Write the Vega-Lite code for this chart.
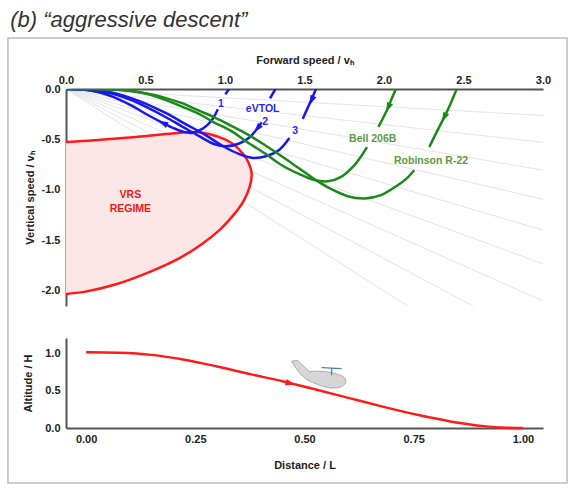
{
  "$schema": "https://vega.github.io/schema/vega-lite/v6.json",
  "background": "white",
  "padding": {"left": 7, "top": 9, "right": 6, "bottom": 6},
  "title": {"text": "(b) \u201caggressive descent\u201d", "anchor": "start", "frame": "bounds", "font": "Liberation Sans", "fontSize": 22, "fontStyle": "italic", "fontWeight": "normal", "color": "#333333", "dx": 3, "offset": 5},
  "config": {
    "view": {"stroke": null},
    "axis": {"domainColor": "#555555", "domainWidth": 2, "ticks": false, "grid": false, "labelFlush": false, "labelOverlap": false,
      "labelFont": "Liberation Sans", "labelFontWeight": "bold", "labelFontSize": 11, "labelColor": "#222222",
      "titleFont": "Liberation Sans", "titleFontWeight": "bold", "titleFontSize": 11, "titleColor": "#222222"},
    "text": {"font": "Liberation Sans"}
  },
  "datasets": {
    "fan": [
      {"deg": 5, "i": 0, "x": 0, "y": 0}, {"deg": 5, "i": 1, "x": 3, "y": -0.262},
      {"deg": 10, "i": 0, "x": 0, "y": 0}, {"deg": 10, "i": 1, "x": 3, "y": -0.529},
      {"deg": 15, "i": 0, "x": 0, "y": 0}, {"deg": 15, "i": 1, "x": 3, "y": -0.804},
      {"deg": 20, "i": 0, "x": 0, "y": 0}, {"deg": 20, "i": 1, "x": 3, "y": -1.092},
      {"deg": 25, "i": 0, "x": 0, "y": 0}, {"deg": 25, "i": 1, "x": 3, "y": -1.399},
      {"deg": 30, "i": 0, "x": 0, "y": 0}, {"deg": 30, "i": 1, "x": 3, "y": -1.732},
      {"deg": 35, "i": 0, "x": 0, "y": 0}, {"deg": 35, "i": 1, "x": 3, "y": -2.1},
      {"deg": 40, "i": 0, "x": 0, "y": 0}, {"deg": 40, "i": 1, "x": 2.56, "y": -2.15},
      {"deg": 45, "i": 0, "x": 0, "y": 0}, {"deg": 45, "i": 1, "x": 2.15, "y": -2.15}
    ],
    "vrs_fill": [
      {"x": 0, "y": -0.525, "y2": -2.03}, {"x": 0.1, "y": -0.516, "y2": -2.013}, {"x": 0.22, "y": -0.502, "y2": -1.975},
      {"x": 0.419, "y": -0.478, "y2": -1.88}, {"x": 0.629, "y": -0.447, "y2": -1.745}, {"x": 0.8, "y": -0.425, "y2": -1.6},
      {"x": 0.9, "y": -0.445, "y2": -1.484}, {"x": 1.0, "y": -0.5, "y2": -1.345}, {"x": 1.05, "y": -0.545, "y2": -1.26},
      {"x": 1.09, "y": -0.6, "y2": -1.17}, {"x": 1.135, "y": -0.69, "y2": -1.05}, {"x": 1.16, "y": -0.78, "y2": -0.93},
      {"x": 1.168, "y": -0.85, "y2": -0.85}
    ],
    "curves": [
      {"seg": "vrs", "tone": "red", "i": 0, "x": 0, "y": -0.525}, {"seg": "vrs", "tone": "red", "i": 1, "x": 0.1, "y": -0.516},
      {"seg": "vrs", "tone": "red", "i": 2, "x": 0.22, "y": -0.502}, {"seg": "vrs", "tone": "red", "i": 3, "x": 0.419, "y": -0.478},
      {"seg": "vrs", "tone": "red", "i": 4, "x": 0.629, "y": -0.447}, {"seg": "vrs", "tone": "red", "i": 5, "x": 0.8, "y": -0.425},
      {"seg": "vrs", "tone": "red", "i": 6, "x": 0.9, "y": -0.445}, {"seg": "vrs", "tone": "red", "i": 7, "x": 1.0, "y": -0.5},
      {"seg": "vrs", "tone": "red", "i": 8, "x": 1.05, "y": -0.545}, {"seg": "vrs", "tone": "red", "i": 9, "x": 1.09, "y": -0.6},
      {"seg": "vrs", "tone": "red", "i": 10, "x": 1.135, "y": -0.69}, {"seg": "vrs", "tone": "red", "i": 11, "x": 1.16, "y": -0.78},
      {"seg": "vrs", "tone": "red", "i": 12, "x": 1.168, "y": -0.85}, {"seg": "vrs", "tone": "red", "i": 13, "x": 1.155, "y": -0.97},
      {"seg": "vrs", "tone": "red", "i": 14, "x": 1.12, "y": -1.1}, {"seg": "vrs", "tone": "red", "i": 15, "x": 1.058, "y": -1.24},
      {"seg": "vrs", "tone": "red", "i": 16, "x": 0.97, "y": -1.39}, {"seg": "vrs", "tone": "red", "i": 17, "x": 0.86, "y": -1.53},
      {"seg": "vrs", "tone": "red", "i": 18, "x": 0.72, "y": -1.67}, {"seg": "vrs", "tone": "red", "i": 19, "x": 0.535, "y": -1.806},
      {"seg": "vrs", "tone": "red", "i": 20, "x": 0.304, "y": -1.94}, {"seg": "vrs", "tone": "red", "i": 21, "x": 0.115, "y": -2.01},
      {"seg": "vrs", "tone": "red", "i": 22, "x": 0, "y": -2.03},

      {"seg": "e1a", "tone": "blue", "i": 0, "x": 1.025, "y": 0}, {"seg": "e1a", "tone": "blue", "i": 1, "x": 1.002, "y": -0.053},
      {"seg": "e1b", "tone": "blue", "i": 0, "x": 0.955, "y": -0.2}, {"seg": "e1b", "tone": "blue", "i": 1, "x": 0.925, "y": -0.29},
      {"seg": "e1b", "tone": "blue", "i": 2, "x": 0.89, "y": -0.355}, {"seg": "e1b", "tone": "blue", "i": 3, "x": 0.845, "y": -0.405},
      {"seg": "e1b", "tone": "blue", "i": 4, "x": 0.79, "y": -0.435}, {"seg": "e1b", "tone": "blue", "i": 5, "x": 0.74, "y": -0.425},
      {"seg": "e1b", "tone": "blue", "i": 6, "x": 0.68, "y": -0.39}, {"seg": "e1b", "tone": "blue", "i": 7, "x": 0.608, "y": -0.335},
      {"seg": "e1b", "tone": "blue", "i": 8, "x": 0.5, "y": -0.245}, {"seg": "e1b", "tone": "blue", "i": 9, "x": 0.419, "y": -0.17},
      {"seg": "e1b", "tone": "blue", "i": 10, "x": 0.3, "y": -0.08}, {"seg": "e1b", "tone": "blue", "i": 11, "x": 0.2, "y": -0.03},
      {"seg": "e1b", "tone": "blue", "i": 12, "x": 0.1, "y": -0.006}, {"seg": "e1b", "tone": "blue", "i": 13, "x": 0, "y": 0},

      {"seg": "e2a", "tone": "blue", "i": 0, "x": 1.317, "y": 0}, {"seg": "e2a", "tone": "blue", "i": 1, "x": 1.283, "y": -0.092},
      {"seg": "e2b", "tone": "blue", "i": 0, "x": 1.23, "y": -0.33}, {"seg": "e2b", "tone": "blue", "i": 1, "x": 1.205, "y": -0.388},
      {"seg": "e2b", "tone": "blue", "i": 2, "x": 1.153, "y": -0.48}, {"seg": "e2b", "tone": "blue", "i": 3, "x": 1.09, "y": -0.54},
      {"seg": "e2b", "tone": "blue", "i": 4, "x": 1.006, "y": -0.568}, {"seg": "e2b", "tone": "blue", "i": 5, "x": 0.93, "y": -0.545},
      {"seg": "e2b", "tone": "blue", "i": 6, "x": 0.84, "y": -0.47}, {"seg": "e2b", "tone": "blue", "i": 7, "x": 0.734, "y": -0.375},
      {"seg": "e2b", "tone": "blue", "i": 8, "x": 0.629, "y": -0.28}, {"seg": "e2b", "tone": "blue", "i": 9, "x": 0.5, "y": -0.175},
      {"seg": "e2b", "tone": "blue", "i": 10, "x": 0.419, "y": -0.115}, {"seg": "e2b", "tone": "blue", "i": 11, "x": 0.3, "y": -0.05},
      {"seg": "e2b", "tone": "blue", "i": 12, "x": 0.2, "y": -0.018}, {"seg": "e2b", "tone": "blue", "i": 13, "x": 0.1, "y": -0.004},
      {"seg": "e2b", "tone": "blue", "i": 14, "x": 0, "y": 0},

      {"seg": "e3a", "tone": "blue", "i": 0, "x": 1.572, "y": 0}, {"seg": "e3a", "tone": "blue", "i": 1, "x": 1.541, "y": -0.115},
      {"seg": "e3a", "tone": "blue", "i": 2, "x": 1.489, "y": -0.296},
      {"seg": "e3b", "tone": "blue", "i": 0, "x": 1.405, "y": -0.486}, {"seg": "e3b", "tone": "blue", "i": 1, "x": 1.342, "y": -0.601},
      {"seg": "e3b", "tone": "blue", "i": 2, "x": 1.258, "y": -0.667}, {"seg": "e3b", "tone": "blue", "i": 3, "x": 1.174, "y": -0.683},
      {"seg": "e3b", "tone": "blue", "i": 4, "x": 1.09, "y": -0.645}, {"seg": "e3b", "tone": "blue", "i": 5, "x": 0.985, "y": -0.565},
      {"seg": "e3b", "tone": "blue", "i": 6, "x": 0.881, "y": -0.46}, {"seg": "e3b", "tone": "blue", "i": 7, "x": 0.755, "y": -0.35},
      {"seg": "e3b", "tone": "blue", "i": 8, "x": 0.629, "y": -0.24}, {"seg": "e3b", "tone": "blue", "i": 9, "x": 0.5, "y": -0.145},
      {"seg": "e3b", "tone": "blue", "i": 10, "x": 0.419, "y": -0.095}, {"seg": "e3b", "tone": "blue", "i": 11, "x": 0.3, "y": -0.04},
      {"seg": "e3b", "tone": "blue", "i": 12, "x": 0.2, "y": -0.013}, {"seg": "e3b", "tone": "blue", "i": 13, "x": 0.1, "y": -0.002},
      {"seg": "e3b", "tone": "blue", "i": 14, "x": 0, "y": 0},

      {"seg": "ba", "tone": "green", "i": 0, "x": 2.075, "y": 0}, {"seg": "ba", "tone": "green", "i": 1, "x": 2.05, "y": -0.09},
      {"seg": "ba", "tone": "green", "i": 2, "x": 2.027, "y": -0.18}, {"seg": "ba", "tone": "green", "i": 3, "x": 1.99, "y": -0.3},
      {"seg": "ba", "tone": "green", "i": 4, "x": 1.965, "y": -0.375},
      {"seg": "bb", "tone": "green", "i": 0, "x": 1.893, "y": -0.575}, {"seg": "bb", "tone": "green", "i": 1, "x": 1.85, "y": -0.68},
      {"seg": "bb", "tone": "green", "i": 2, "x": 1.813, "y": -0.756}, {"seg": "bb", "tone": "green", "i": 3, "x": 1.73, "y": -0.87},
      {"seg": "bb", "tone": "green", "i": 4, "x": 1.646, "y": -0.915}, {"seg": "bb", "tone": "green", "i": 5, "x": 1.562, "y": -0.902},
      {"seg": "bb", "tone": "green", "i": 6, "x": 1.468, "y": -0.843}, {"seg": "bb", "tone": "green", "i": 7, "x": 1.352, "y": -0.75},
      {"seg": "bb", "tone": "green", "i": 8, "x": 1.258, "y": -0.645}, {"seg": "bb", "tone": "green", "i": 9, "x": 1.143, "y": -0.53},
      {"seg": "bb", "tone": "green", "i": 10, "x": 1.048, "y": -0.425}, {"seg": "bb", "tone": "green", "i": 11, "x": 0.93, "y": -0.33},
      {"seg": "bb", "tone": "green", "i": 12, "x": 0.839, "y": -0.25}, {"seg": "bb", "tone": "green", "i": 13, "x": 0.73, "y": -0.175},
      {"seg": "bb", "tone": "green", "i": 14, "x": 0.629, "y": -0.11}, {"seg": "bb", "tone": "green", "i": 15, "x": 0.524, "y": -0.055},
      {"seg": "bb", "tone": "green", "i": 16, "x": 0.419, "y": -0.02}, {"seg": "bb", "tone": "green", "i": 17, "x": 0.3, "y": -0.004},
      {"seg": "bb", "tone": "green", "i": 18, "x": 0.15, "y": 0}, {"seg": "bb", "tone": "green", "i": 19, "x": 0, "y": 0},

      {"seg": "ra", "tone": "green", "i": 0, "x": 2.457, "y": 0}, {"seg": "ra", "tone": "green", "i": 1, "x": 2.42, "y": -0.14},
      {"seg": "ra", "tone": "green", "i": 2, "x": 2.379, "y": -0.279}, {"seg": "ra", "tone": "green", "i": 3, "x": 2.33, "y": -0.43},
      {"seg": "ra", "tone": "green", "i": 4, "x": 2.285, "y": -0.575},
      {"seg": "rb", "tone": "green", "i": 0, "x": 2.19, "y": -0.805}, {"seg": "rb", "tone": "green", "i": 1, "x": 2.14, "y": -0.89},
      {"seg": "rb", "tone": "green", "i": 2, "x": 2.086, "y": -0.953}, {"seg": "rb", "tone": "green", "i": 3, "x": 1.981, "y": -1.051},
      {"seg": "rb", "tone": "green", "i": 4, "x": 1.876, "y": -1.084}, {"seg": "rb", "tone": "green", "i": 5, "x": 1.772, "y": -1.062},
      {"seg": "rb", "tone": "green", "i": 6, "x": 1.66, "y": -0.985}, {"seg": "rb", "tone": "green", "i": 7, "x": 1.56, "y": -0.89},
      {"seg": "rb", "tone": "green", "i": 8, "x": 1.46, "y": -0.78}, {"seg": "rb", "tone": "green", "i": 9, "x": 1.357, "y": -0.667},
      {"seg": "rb", "tone": "green", "i": 10, "x": 1.25, "y": -0.555}, {"seg": "rb", "tone": "green", "i": 11, "x": 1.148, "y": -0.455},
      {"seg": "rb", "tone": "green", "i": 12, "x": 1.04, "y": -0.365}, {"seg": "rb", "tone": "green", "i": 13, "x": 0.94, "y": -0.285},
      {"seg": "rb", "tone": "green", "i": 14, "x": 0.83, "y": -0.21}, {"seg": "rb", "tone": "green", "i": 15, "x": 0.73, "y": -0.14},
      {"seg": "rb", "tone": "green", "i": 16, "x": 0.629, "y": -0.09}, {"seg": "rb", "tone": "green", "i": 17, "x": 0.524, "y": -0.05},
      {"seg": "rb", "tone": "green", "i": 18, "x": 0.419, "y": -0.022}, {"seg": "rb", "tone": "green", "i": 19, "x": 0.3, "y": -0.006},
      {"seg": "rb", "tone": "green", "i": 20, "x": 0.15, "y": 0}, {"seg": "rb", "tone": "green", "i": 21, "x": 0, "y": 0}
    ],
    "arrows": [
      {"tone": "blue", "x": 0.612, "y": -0.338, "dir": 296},
      {"tone": "blue", "x": 1.205, "y": -0.388, "dir": 220},
      {"tone": "blue", "x": 1.545, "y": -0.11, "dir": 204},
      {"tone": "green", "x": 2.027, "y": -0.18, "dir": 205},
      {"tone": "green", "x": 2.379, "y": -0.279, "dir": 206}
    ],
    "labels": [
      {"tone": "bluetext", "x": 0.975, "y": -0.151, "text": "1"},
      {"tone": "bluetext", "x": 1.237, "y": -0.197, "text": "eVTOL"},
      {"tone": "bluetext", "x": 1.252, "y": -0.33, "text": "2"},
      {"tone": "bluetext", "x": 1.442, "y": -0.414, "text": "3"},
      {"tone": "greentext", "x": 1.929, "y": -0.495, "text": "Bell 206B"},
      {"tone": "greentext", "x": 2.296, "y": -0.71, "text": "Robinson R-22"},
      {"tone": "redtext", "x": 0.405, "y": -1.05, "text": "VRS"},
      {"tone": "redtext", "x": 0.405, "y": -1.19, "text": "REGIME"}
    ],
    "profile": [
      {"d": 0, "h": 1.01}, {"d": 0.075, "h": 1.003}, {"d": 0.15, "h": 0.975}, {"d": 0.225, "h": 0.91},
      {"d": 0.3, "h": 0.82}, {"d": 0.378, "h": 0.715}, {"d": 0.452, "h": 0.62}, {"d": 0.528, "h": 0.51},
      {"d": 0.605, "h": 0.395}, {"d": 0.681, "h": 0.282}, {"d": 0.758, "h": 0.176}, {"d": 0.834, "h": 0.088},
      {"d": 0.911, "h": 0.025}, {"d": 0.95, "h": 0.007}, {"d": 1.0, "h": 0}
    ],
    "profile_arrow": [{"d": 0.467, "h": 0.598, "dir": 104}],
    "plane": [{"d": 0.534, "h": 0.703}],
    "rotor": [{"d": 0.562, "h": 0.797}]
  },
  "spacing": 32,
  "bounds": "flush",
  "vconcat": [
    {
      "width": 477,
      "height": 217,
      "layer": [
        {
          "data": {"values": [{}]},
          "mark": {"type": "rect", "filled": false, "stroke": "#bcbcbc", "strokeWidth": 1.5},
          "encoding": {
            "x": {"datum": -0.365, "type": "quantitative", "scale": {"domain": [0, 3], "nice": false, "zero": false}},
            "x2": {"datum": 3.151},
            "y": {"datum": 0.505, "type": "quantitative", "scale": {"domain": [-2.15, 0], "nice": false, "zero": false}},
            "y2": {"datum": -3.904}
          }
        },
        {
          "data": {"name": "fan"},
          "mark": {"type": "line", "color": "#e4e4e4", "strokeWidth": 1},
          "encoding": {
            "x": {"field": "x", "type": "quantitative", "scale": {"domain": [0, 3], "nice": false, "zero": false},
              "axis": {"orient": "top", "title": "Forward speed / v\u2095", "values": [0, 0.5, 1, 1.5, 2, 2.5, 3], "format": ".1f", "labelPadding": 4, "titlePadding": 9}},
            "y": {"field": "y", "type": "quantitative", "scale": {"domain": [-2.15, 0], "nice": false, "zero": false},
              "axis": {"title": "Vertical speed / v\u2095", "values": [0, -0.5, -1, -1.5, -2], "format": ".1f", "labelExpr": "replace(datum.label, '\u2212', '-')", "labelPadding": 6, "titlePadding": 6}},
            "detail": {"field": "deg"},
            "order": {"field": "i", "type": "quantitative"}
          }
        },
        {
          "data": {"name": "vrs_fill"},
          "mark": {"type": "area", "color": "#fde6e6", "interpolate": "monotone"},
          "encoding": {
            "x": {"field": "x", "type": "quantitative", "title": "Forward speed / v\u2095"},
            "y": {"field": "y", "type": "quantitative", "title": "Vertical speed / v\u2095"},
            "y2": {"field": "y2"}
          }
        },
        {
          "data": {"name": "curves"},
          "mark": {"type": "line", "strokeWidth": 2.5, "interpolate": "catmull-rom", "clip": true},
          "encoding": {
            "x": {"field": "x", "type": "quantitative"},
            "y": {"field": "y", "type": "quantitative"},
            "color": {"field": "tone", "type": "nominal", "legend": null,
              "scale": {"domain": ["red", "blue", "green", "bluetext", "greentext", "redtext"],
                "range": ["#ff1a1a", "#1818ee", "#1b8a1b", "#2a2ae6", "#5c9a3e", "#f01818"]}},
            "detail": {"field": "seg"},
            "order": {"field": "i", "type": "quantitative"}
          }
        },
        {
          "data": {"name": "arrows"},
          "mark": {"type": "point", "filled": true, "opacity": 1, "shape": "M0,-1L0.62,0.85L-0.62,0.85Z", "size": 110},
          "encoding": {
            "x": {"field": "x", "type": "quantitative"},
            "y": {"field": "y", "type": "quantitative"},
            "color": {"field": "tone", "type": "nominal", "legend": null},
            "angle": {"field": "dir", "type": "quantitative", "scale": null}
          }
        },
        {
          "data": {"name": "labels"},
          "mark": {"type": "text", "fontWeight": "bold", "fontSize": 10.5, "align": "center", "baseline": "middle"},
          "encoding": {
            "x": {"field": "x", "type": "quantitative"},
            "y": {"field": "y", "type": "quantitative"},
            "text": {"field": "text"},
            "color": {"field": "tone", "type": "nominal", "legend": null}
          }
        }
      ]
    },
    {
      "width": 477,
      "height": 90,
      "layer": [
        {
          "data": {"name": "profile"},
          "mark": {"type": "line", "color": "#ff1a1a", "strokeWidth": 2.5, "interpolate": "monotone"},
          "encoding": {
            "x": {"field": "d", "type": "quantitative", "scale": {"domain": [-0.046, 1.046], "nice": false, "zero": false},
              "axis": {"title": "Distance / L", "values": [0, 0.25, 0.5, 0.75, 1], "format": ".2f", "labelPadding": 5, "titlePadding": 15}},
            "y": {"field": "h", "type": "quantitative", "scale": {"domain": [0, 1.2], "nice": false, "zero": false},
              "axis": {"title": "Altitude / H", "values": [0, 0.5, 1], "format": ".1f", "labelPadding": 6, "titlePadding": 11}}
          }
        },
        {
          "data": {"name": "profile_arrow"},
          "mark": {"type": "point", "filled": true, "opacity": 1, "color": "#ff1a1a", "shape": "M0,-1L0.62,0.85L-0.62,0.85Z", "size": 110},
          "encoding": {
            "x": {"field": "d", "type": "quantitative"},
            "y": {"field": "h", "type": "quantitative"},
            "angle": {"field": "dir", "type": "quantitative", "scale": null}
          }
        },
        {
          "data": {"name": "plane"},
          "mark": {"type": "point", "filled": true, "opacity": 1, "fill": "#d6d6d6", "stroke": "#9c9c9c", "strokeWidth": 0.8, "size": 3600,
            "shape": "M-0.93,-0.47L-0.73,-0.5L-0.33,-0.12C0,-0.17 0.5,-0.1 0.75,0.02C0.95,0.12 0.95,0.35 0.6,0.42C0.3,0.45 0,0.35 -0.35,0.18C-0.55,0.08 -0.7,-0.1 -0.93,-0.47Z"},
          "encoding": {
            "x": {"field": "d", "type": "quantitative"},
            "y": {"field": "h", "type": "quantitative"}
          }
        },
        {
          "data": {"name": "rotor"},
          "mark": {"type": "point", "filled": false, "opacity": 1, "stroke": "#4f7fbf", "strokeWidth": 1.3, "size": 400,
            "shape": "M-1,-0.05L1,0.05M0,0L0,0.7"},
          "encoding": {
            "x": {"field": "d", "type": "quantitative"},
            "y": {"field": "h", "type": "quantitative"}
          }
        }
      ]
    }
  ]
}
